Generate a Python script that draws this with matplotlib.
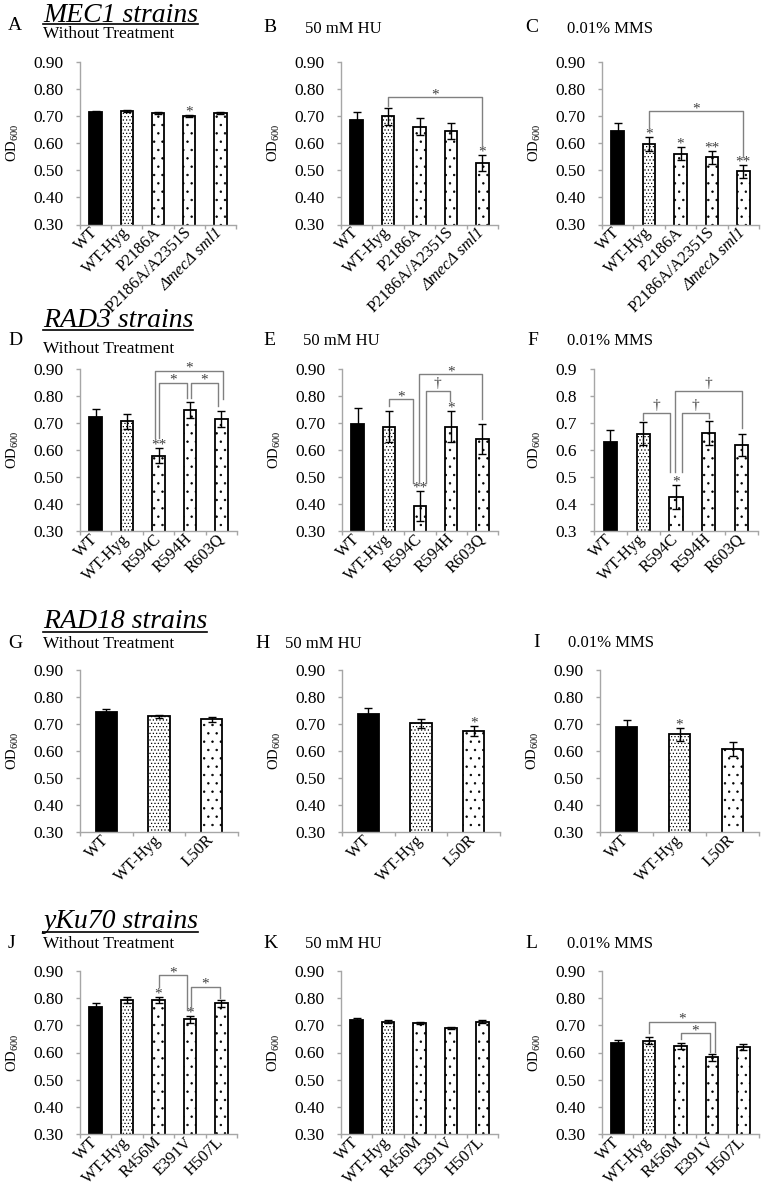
import numpy as np
import matplotlib
matplotlib.use('Agg')
import matplotlib.pyplot as plt
from matplotlib.lines import Line2D
from matplotlib.ticker import FormatStrFormatter

plt.rcParams['font.family'] = ['Liberation Serif', 'DejaVu Serif']
plt.rcParams['mathtext.default'] = 'regular'
plt.rcParams['hatch.linewidth'] = 0.5

W, H = 761, 1189

# ---- data ----
labels_mec1 = ['WT', 'WT-Hyg', 'P2186A', 'P2186A/A2351S', 'ΔmecΔ sml1']
labels_rad3 = ['WT', 'WT-Hyg', 'R594C', 'R594H', 'R603Q']
labels_rad18 = ['WT', 'WT-Hyg', 'L50R']
labels_yku70 = ['WT', 'WT-Hyg', 'R456M', 'E391V', 'H507L']

vals_A = [0.715, 0.720, 0.712, 0.700, 0.711]
err_A = [0.004, 0.003, 0.003, 0.004, 0.003]
sig_A = ['', '', '', '*', '']

vals_B = [0.686, 0.700, 0.661, 0.645, 0.528]
err_B = [0.031, 0.031, 0.032, 0.031, 0.030]
sig_B = ['', '', '', '', '*']

vals_C = [0.646, 0.597, 0.562, 0.548, 0.496]
err_C = [0.030, 0.027, 0.025, 0.023, 0.025]
sig_C = ['', '*', '*', '**', '**']

vals_D = [0.721, 0.706, 0.579, 0.747, 0.715]
err_D = [0.031, 0.029, 0.028, 0.030, 0.028]
sig_D = ['', '', '**', '', '']

vals_E = [0.698, 0.686, 0.392, 0.686, 0.640]
err_E = [0.059, 0.057, 0.056, 0.057, 0.055]
sig_E = ['', '', '**', '*', '']

vals_F = [0.630, 0.661, 0.425, 0.664, 0.617]
err_F = [0.044, 0.042, 0.044, 0.044, 0.041]
sig_F = ['', '', '*', '', '']

vals_G = [0.743, 0.728, 0.718]
err_G = [0.011, 0.007, 0.009]
sig_G = ['', '', '']

vals_H = [0.738, 0.702, 0.674]
err_H = [0.021, 0.018, 0.018]
sig_H = ['', '', '*']

vals_I = [0.690, 0.662, 0.607]
err_I = [0.025, 0.025, 0.025]
sig_I = ['', '*', '']

vals_J = [0.769, 0.793, 0.794, 0.722, 0.781]
err_J = [0.012, 0.012, 0.012, 0.012, 0.012]
sig_J = ['', '', '*', '*', '']

vals_K = [0.720, 0.714, 0.709, 0.691, 0.714]
err_K = [0.006, 0.005, 0.005, 0.004, 0.005]
sig_K = ['', '', '', '', '']

vals_L = [0.634, 0.644, 0.624, 0.582, 0.621]
err_L = [0.012, 0.012, 0.012, 0.012, 0.012]
sig_L = ['', '', '', '', '']

# brackets: (from, to, y of bar, y end left, y end right, label, dx left, dx right)
br_B = [(1, 4, 0.769, 0.737, 0.587, '*', 0, 0)]
br_C = [(1, 4, 0.719, 0.655, 0.550, '*', 0, 0)]
br_D = [(2, 4, 0.894, 0.646, 0.788, '*', -0.10, 0.04),
        (2, 3, 0.850, 0.646, 0.791, '*', 0.03, -0.10),
        (3, 4, 0.850, 0.791, 0.764, '*', 0.03, -0.12)]
br_E = [(1, 2, 0.788, 0.764, 0.479, '*', 0, -0.22),
        (2, 3, 0.817, 0.479, 0.782, '†', 0.18, -0.04),
        (2, 4, 0.881, 0.479, 0.714, '*', -0.03, 0)]
br_F = [(1, 2, 0.736, 0.712, 0.519, '†', 0, -0.19),
        (2, 3, 0.736, 0.519, 0.718, '†', 0.17, 0),
        (2, 4, 0.817, 0.519, 0.681, '†', -0.04, 0)]
br_J = [(2, 3, 0.885, 0.842, 0.756, '*', 0, -0.10),
        (3, 4, 0.842, 0.756, 0.800, '*', 0.03, -0.05)]
br_L = [(1, 3, 0.713, 0.671, 0.603, '*', 0, 0.10),
        (2, 3, 0.671, 0.648, 0.603, '*', 0, -0.06)]

GREY = '#a6a6a6'


def fx(x):
    return x / W


def fy(y):
    return 1 - y / H


def mark_offset(s):
    # the asterisk sits high on its baseline, the dagger does not
    return 0.018 if s == '†' else -0.002


fig = plt.figure(figsize=(W / 100, H / 100), dpi=100)


def panel(rect, labels, vals, errs, sig, brackets=(), yfmt='%.2f'):
    l, t, r, b = rect
    ax = fig.add_axes([fx(l), fy(b), (r - l) / W, (b - t) / H])
    n = len(labels)
    x = np.arange(n)
    for i in range(n):
        if i == 0:
            ax.bar(x[i], vals[i], width=0.4, color='black', edgecolor='black', lw=1.3)
        else:
            hatch = '.....' if i == 1 else '..'
            ax.bar(x[i], vals[i], width=0.4, color='white', edgecolor='black',
                   lw=1.3, hatch=hatch)
    ax.errorbar(x, vals, yerr=errs, fmt='none', ecolor='black', elinewidth=1,
                capsize=3, capthick=1, zorder=3)
    for i in range(n):
        if sig[i]:
            ax.text(x[i], vals[i] + errs[i] + mark_offset(sig[i]), sig[i], ha='center',
                    va='baseline', fontsize=11, color='#404040', clip_on=False)
    for (i, j, yh, yi, yj, lab, di, dj) in brackets:
        xi, xj = i + di, j + dj
        ax.plot([xi, xi, xj, xj], [yi, yh, yh, yj], color='#808080', lw=1,
                clip_on=False, zorder=4)
        ax.text((xi + xj) / 2, yh + mark_offset(lab) - 0.002, lab, ha='center',
                va='baseline', fontsize=11, color='#404040', clip_on=False)

    ax.set_xlim(-0.5, n - 0.5)
    ax.set_ylim(0.3, 0.9)
    ax.set_yticks(np.arange(0.3, 0.91, 0.1))
    ax.yaxis.set_major_formatter(FormatStrFormatter(yfmt))
    ax.set_xticks(np.arange(-0.5, n, 1))
    ax.set_xticklabels([])
    ax.set_xticks(x, minor=True)
    ax.set_xticklabels(labels, minor=True, rotation=45, ha='right', va='center',
                       rotation_mode='anchor')
    for tl in ax.get_xticklabels(minor=True):
        if 'Δ' in tl.get_text():
            tl.set_style('italic')
    ax.tick_params(axis='both', which='major', direction='out', length=3,
                   color=GREY, width=1, labelsize=12.5)
    ax.tick_params(axis='y', pad=9)
    ax.tick_params(axis='x', which='minor', length=0, labelsize=12, pad=4)
    for s in ['top', 'right']:
        ax.spines[s].set_visible(False)
    for s in ['left', 'bottom']:
        ax.spines[s].set_color(GREY)
        ax.spines[s].set_linewidth(1)
    ax.set_ylabel('OD$_{600}$', fontsize=10.5, labelpad=9)
    return ax


# row 1: MEC1
panel((80, 62, 236, 224.5), labels_mec1, vals_A, err_A, sig_A)
panel((341, 62, 498, 224.5), labels_mec1, vals_B, err_B, sig_B, br_B)
panel((602, 62, 759, 224.5), labels_mec1, vals_C, err_C, sig_C, br_C)
# row 2: RAD3
panel((80, 369, 237, 531), labels_rad3, vals_D, err_D, sig_D, br_D)
panel((342, 369, 498, 531), labels_rad3, vals_E, err_E, sig_E, br_E)
panel((594, 369, 758, 531), labels_rad3, vals_F, err_F, sig_F, br_F, yfmt='%.1f')
# row 3: RAD18
panel((80, 670, 238, 832), labels_rad18, vals_G, err_G, sig_G)
panel((342, 670, 500, 832), labels_rad18, vals_H, err_H, sig_H)
panel((600, 670, 759, 832), labels_rad18, vals_I, err_I, sig_I)
# row 4: yKu70
panel((80, 971, 237, 1134), labels_yku70, vals_J, err_J, sig_J, br_J)
panel((341, 971, 498, 1134), labels_yku70, vals_K, err_K, sig_K)
panel((602, 971, 759, 1134), labels_yku70, vals_L, err_L, sig_L, br_L)

# panel letters and treatment texts
letters = [('A', 8, 30), ('B', 263, 32), ('C', 525, 32),
           ('D', 8, 345), ('E', 263, 345), ('F', 527, 345),
           ('G', 8, 648), ('H', 255, 648), ('I', 533, 647),
           ('J', 8, 948), ('K', 263, 948), ('L', 525, 948)]
for s, x0, y0 in letters:
    fig.text(fx(x0), fy(y0), s, fontsize=14, va='baseline', ha='left')

subs = [('Without Treatment', 43, 38), ('50 mM HU', 305, 33), ('0.01% MMS', 567, 33),
        ('Without Treatment', 43, 353), ('50 mM HU', 303, 345), ('0.01% MMS', 567, 345),
        ('Without Treatment', 43, 648), ('50 mM HU', 285, 648), ('0.01% MMS', 568, 647),
        ('Without Treatment', 43, 948), ('50 mM HU', 305, 948), ('0.01% MMS', 567, 948)]
for s, x0, y0 in subs:
    size = 12.5 if s.startswith('Without') else 12
    fig.text(fx(x0), fy(y0), s, fontsize=size, va='baseline', ha='left')

strain_titles = [('MEC1 strains', 43, 21.5, 24), ('RAD3 strains', 43, 327, 330),
                 ('RAD18 strains', 43, 628, 632), ('yKu70 strains', 43, 928, 932)]
title_objs = []
for s, x0, y0, yu in strain_titles:
    t = fig.text(fx(x0), fy(y0), s, fontsize=20, style='italic', va='baseline', ha='left')
    title_objs.append((t, yu))

fig.canvas.draw()
renderer = fig.canvas.get_renderer()
for t, yu in title_objs:
    bb = t.get_window_extent(renderer)
    fig.add_artist(Line2D([bb.x0 / W, bb.x1 / W], [fy(yu), fy(yu)],
                          transform=fig.transFigure, color='black', lw=1.2))

fig.savefig('out.png', dpi=100)
